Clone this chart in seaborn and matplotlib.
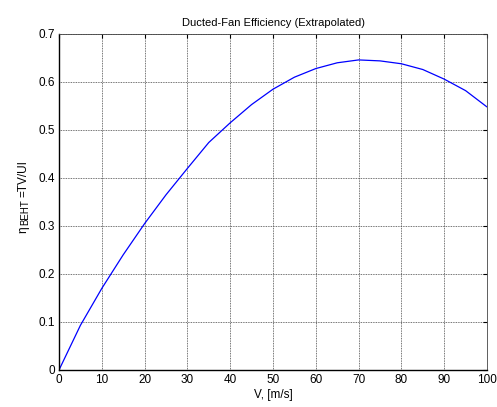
import matplotlib
matplotlib.use("Agg")
import matplotlib.pyplot as plt
import seaborn as sns
import pandas as pd

# Ducted-fan efficiency vs. airspeed, sampled every 5 m/s
speed = [0, 5, 10, 15, 20, 25, 30, 35, 40, 45, 50,
         55, 60, 65, 70, 75, 80, 85, 90, 95, 100]
efficiency = [0.0, 0.093, 0.170, 0.240, 0.305, 0.365, 0.420, 0.474, 0.515, 0.553, 0.585,
              0.610, 0.628, 0.640, 0.646, 0.644, 0.638, 0.626, 0.606, 0.582, 0.548]
x_ticks = [0, 10, 20, 30, 40, 50, 60, 70, 80, 90, 100]
y_ticks = [0, 0.1, 0.2, 0.3, 0.4, 0.5, 0.6, 0.7]

sns.set_theme(style="white")
plt.rcParams["font.family"] = ["Liberation Sans", "DejaVu Sans"]
plt.rcParams["mathtext.fontset"] = "custom"
plt.rcParams["mathtext.rm"] = "Liberation Sans"
plt.rcParams["mathtext.it"] = "Liberation Sans"

df = pd.DataFrame({"V": speed, "eta": efficiency})

W, H = 497, 407
fig = plt.figure(figsize=(W / 100, H / 100), dpi=100)
ax = fig.add_axes([59 / W, 37 / H, 428 / W, 336 / H])
sns.lineplot(data=df, x="V", y="eta", ax=ax, color="#0000ff", linewidth=0.9)

ax.set_xlim(0, 100)
ax.set_ylim(0, 0.7)
ax.set_xticks(x_ticks)
ax.set_yticks(y_ticks)
ax.set_xticklabels([str(t) for t in x_ticks])
ax.set_yticklabels([("%g" % t) for t in y_ticks])
ax.grid(True, color="#444444", linestyle=(0, (1, 1)), linewidth=0.6)
ax.set_axisbelow(True)

for side in ["left", "bottom"]:
    ax.spines[side].set_color("black")
    ax.spines[side].set_linewidth(1.0)
for side in ["top", "right"]:
    ax.spines[side].set_color("#444444")
    ax.spines[side].set_linestyle((0, (1, 1)))
    ax.spines[side].set_linewidth(0.6)

ax.tick_params(axis="both", direction="in", length=3, width=0.8, color="black",
               labelsize=8.5, labelcolor="black", top=True, right=True, pad=3)

ax.set_title("Ducted-Fan Efficiency (Extrapolated)", fontsize=8, color="black", pad=6)
ax.set_xlabel("V, [m/s]", fontsize=8.5, color="black", labelpad=2)
ax.set_ylabel("")

# Y label built from three chained pieces so the subscript keeps a large size:
# each piece starts where the previous one ends along the vertical direction.
eta_txt = fig.text(26.5 / W, (H - 234) / H, r"$\eta$", rotation=90,
                   rotation_mode="anchor", ha="left", va="baseline",
                   fontsize=8.5, color="black")
sub_txt = ax.annotate("BEHT", xy=(28.5 / W, 1.0), xycoords=("figure fraction", eta_txt),
                      xytext=(0, 1), textcoords="offset points", rotation=90,
                      rotation_mode="anchor", ha="left", va="baseline",
                      fontsize=7.0, color="black", annotation_clip=False)
ax.annotate("=TV/UI", xy=(26.5 / W, 1.0), xycoords=("figure fraction", sub_txt),
            xytext=(0, 1.5), textcoords="offset points", rotation=90,
            rotation_mode="anchor", ha="left", va="baseline",
            fontsize=8.5, color="black", annotation_clip=False)

fig.savefig("out.png", dpi=100, facecolor="white")
